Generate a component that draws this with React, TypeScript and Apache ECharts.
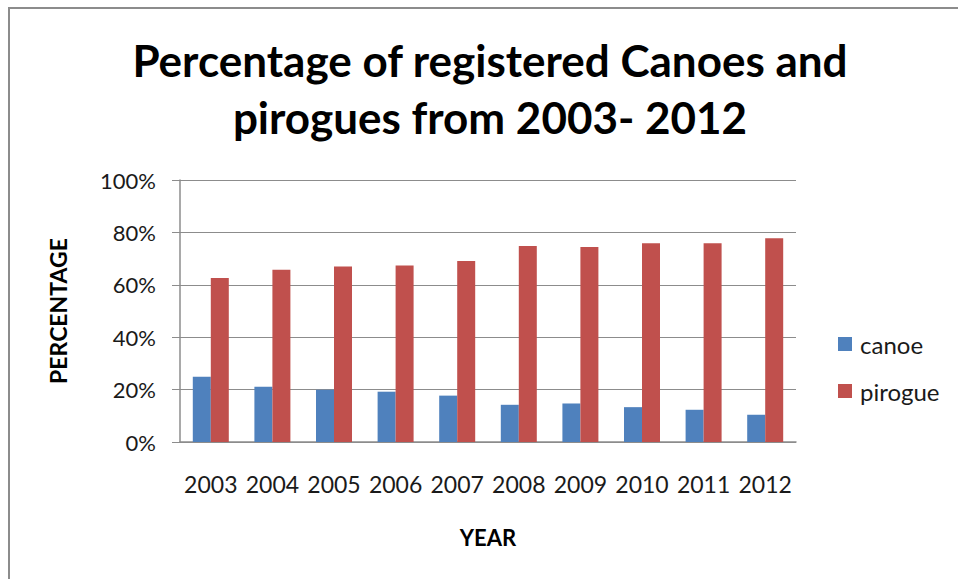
import React, { useEffect, useRef } from "react";
import * as echarts from "echarts";

const years = ["2003", "2004", "2005", "2006", "2007", "2008", "2009", "2010", "2011", "2012"];
const canoe = [24.9, 21.1, 19.9, 19.2, 17.7, 14.2, 14.7, 13.3, 12.3, 10.4];
const pirogue = [62.6, 65.7, 67.0, 67.4, 69.1, 74.8, 74.4, 75.9, 75.9, 77.8];
const titleText = "Percentage of registered Canoes and\npirogues from 2003- 2012";

export default function App() {
  const ref = useRef<HTMLDivElement>(null);
  useEffect(() => {
    if (!ref.current) return;
    const chart = echarts.init(ref.current, null, { renderer: "svg" });
    const font = "Lato, 'Noto Sans', sans-serif";
    chart.setOption({
      animation: false,
      backgroundColor: "#ffffff",
      textStyle: { fontFamily: font },
      title: {
        text: titleText,
        left: 485,
        top: 26,
        textAlign: "center",
        textStyle: {
          fontFamily: font,
          fontWeight: "bold",
          fontSize: 44,
          lineHeight: 57,
          color: "#000000",
        },
      },
      graphic: [
        {
          type: "rect",
          shape: { x: 9, y: 8, width: 1200, height: 1000 },
          style: { fill: "none", stroke: "#8c8c8c", lineWidth: 2 },
          silent: true,
        },
      ],
      legend: {
        orient: "vertical",
        left: 838,
        top: 331,
        padding: 0,
        itemWidth: 14,
        itemHeight: 14,
        itemGap: 21,
        icon: "rect",
        textStyle: { fontFamily: font, fontSize: 24, color: "#1a1a1a", lineHeight: 26, padding: [0, 0, 0, 3] },
        data: ["canoe", "pirogue"],
      },
      grid: { left: 180, right: 162, top: 180, bottom: 137, containLabel: false },
      xAxis: {
        type: "category",
        data: years,
        name: "YEAR",
        nameLocation: "middle",
        nameGap: 84,
        nameTextStyle: { fontFamily: font, fontWeight: "bold", fontSize: 22, color: "#000" },
        axisLine: { lineStyle: { color: "#8c8c8c", width: 1.5 } },
        axisTick: { show: false },
        axisLabel: { interval: 0, fontFamily: font, fontSize: 23, color: "#1a1a1a", margin: 30 },
      },
      yAxis: {
        type: "value",
        min: 0,
        max: 100,
        interval: 20,
        name: "PERCENTAGE",
        nameLocation: "middle",
        nameGap: 111,
        nameRotate: 90,
        nameTextStyle: { fontFamily: font, fontWeight: "bold", fontSize: 23, color: "#000" },
        axisLine: { show: true, lineStyle: { color: "#8c8c8c", width: 1.5 } },
        axisTick: { show: true, length: 8, lineStyle: { color: "#8c8c8c" } },
        splitLine: { lineStyle: { color: "#8c8c8c", width: 1.2 } },
        axisLabel: { fontFamily: font, fontSize: 22, color: "#1a1a1a", margin: 24, formatter: "{value}%" },
      },
      series: [
        {
          name: "canoe",
          type: "bar",
          data: canoe,
          barWidth: 18,
          barGap: "0%",
          itemStyle: { color: "#4F81BD" },
        },
        {
          name: "pirogue",
          type: "bar",
          data: pirogue,
          barWidth: 18,
          barGap: "0%",
          itemStyle: { color: "#C0504D" },
        },
      ],
    });
    return () => chart.dispose();
  }, []);
  return (
    <div
      ref={ref}
      style={{ position: "absolute", left: 0, top: 0, width: 958, height: 579 }}
    />
  );
}
